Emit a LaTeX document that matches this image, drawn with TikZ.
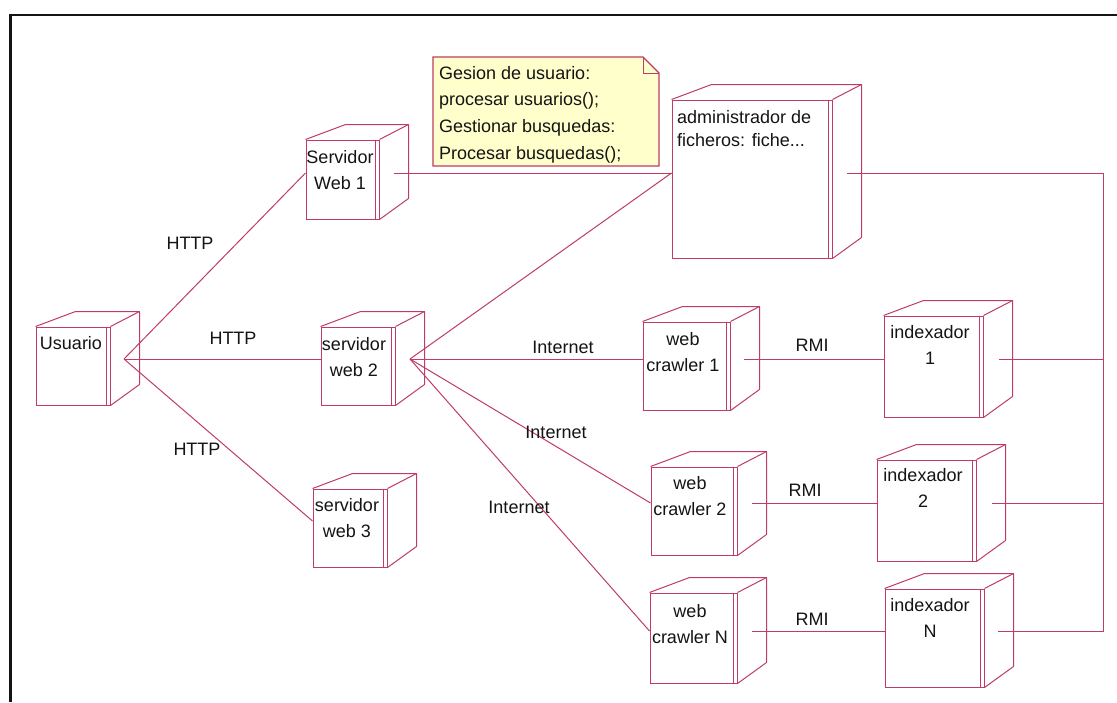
\documentclass[tikz,border=0pt]{standalone}
\usepackage{fontspec}
\setmainfont{Liberation Sans}
\usetikzlibrary{fit,calc}
\definecolor{uml}{RGB}{190,60,102}
\definecolor{notefill}{RGB}{255,255,204}
\definecolor{ink}{RGB}{20,20,20}
\definecolor{framec}{RGB}{20,20,20}
\tikzset{
  edge/.style={draw=uml, line width=1pt, line join=round},
  front/.style={draw=uml, line width=1pt, inner sep=0pt},
  conn/.style={draw=uml, line width=1pt},
  txt/.style={text=ink, font=\fontsize{18}{26}\selectfont, align=center, inner sep=0pt},
  lbl/.style={text=ink, font=\fontsize{18}{22}\selectfont, inner sep=0pt},
}
\newcommand\umlcube[7]{%
  \node[front, fit={(#2,#3) (#4,#5)}] (#1) {};
  \draw[edge] (#1.north west) -- ++(40,-15) -- ($(#1.north east)+(29,-15)$) -- ($(#1.south east)+(29,-21)$) -- (#1.south east);
  \draw[edge] (#1.north east) -- ++(29,-15);
  \draw[edge] ($(#1.north east)+(-4,0)$) -- ($(#1.south east)+(-4,0)$);
  \coordinate (#1-p) at (#6,#7);
}
\begin{document}
\begin{tikzpicture}[x=1pt,y=-1pt]
\useasboundingbox (0,0) rectangle (1117,702);
\fill[white] (0,0) rectangle (1117,702);
% frame
\draw[framec, line width=2.6pt] (10.5,702) -- (10.5,15) -- (1117,15);

% nodes
\umlcube{usuario}{36}{327}{110}{405}{124}{359}
\umlcube{sw1}{306}{140}{379}{219}{394}{173}
\umlcube{sw2}{321}{327}{395}{405}{410}{359}
\umlcube{sw3}{313}{489}{387}{567}{402}{521}
\umlcube{adm}{672}{100}{832}{258}{847}{173}
\umlcube{wc1}{643}{322}{730}{410}{744}{359}
\umlcube{wc2}{651}{467}{737}{555}{752}{503}
\umlcube{wcN}{650}{593}{737}{683}{752}{631}
\umlcube{idx1}{884}{316}{983}{417}{999}{359}
\umlcube{idx2}{877}{460}{976}{561}{992}{503}
\umlcube{idxN}{885}{589}{984}{687}{998}{631}
\coordinate (bus) at (1103,173);

% connectors
\draw[conn] (usuario-p) -- (sw1.west |- sw1-p);
\draw[conn] (usuario-p) -- (sw2.west |- sw2-p);
\draw[conn] (usuario-p) -- (sw3.west |- sw3-p);
\draw[conn] (sw1-p) -- (adm.west |- adm-p);
\draw[conn] (sw2-p) -- (adm.west |- adm-p);
\draw[conn] (sw2-p) -- (wc1.west |- wc1-p);
\draw[conn] (sw2-p) -- (wc2.west |- wc2-p);
\draw[conn] (sw2-p) -- (wcN.west |- wcN-p);
\draw[conn] (wc1-p) -- (idx1.west |- wc1-p);
\draw[conn] (wc2-p) -- (idx2.west |- wc2-p);
\draw[conn] (wcN-p) -- (idxN.west |- wcN-p);
\draw[conn] (adm-p) -- (bus) |- (idxN-p);
\draw[conn] (idx1-p) -- (bus |- idx1-p);
\draw[conn] (idx2-p) -- (bus |- idx2-p);

% note shape
\draw[draw=uml, line width=1.2pt, fill=notefill] (433,57) -- (643,57) -- (659,73) -- (659,166) -- (433,166) -- cycle;
\draw[draw=uml, line width=0.9pt] (643,57) -- (643,73) -- (659,73);
\node[lbl, align=left, anchor=north west, font=\fontsize{18}{26.7}\selectfont] (note) at (439,66)
  {Gesion de usuario:\\procesar usuarios();\\Gestionar busquedas:\\Procesar busquedas();};

% node texts
\node[txt] (usuario-t) at (71,343) {Usuario};
\node[txt] (sw1-t) at (340,170) {Servidor\\Web 1};
\node[txt] (sw2-t) at (354,357) {servidor\\web 2};
\node[txt] (sw3-t) at (347,518) {servidor\\web 3};
\node[txt, align=left, anchor=north west, font=\fontsize{18}{23}\selectfont] (adm-t) at (677,110) {administrador de\\ficheros: fiche...};
\node[txt] (wc1-t) at (683,352) {web\\crawler 1};
\node[txt] (wc2-t) at (690,496) {web\\crawler 2};
\node[txt] (wcN-t) at (690,624) {web\\crawler N};
\node[txt] (idx1-t) at (930,345) {indexador\\1};
\node[txt] (idx2-t) at (923,488) {indexador\\2};
\node[txt] (idxN-t) at (930,618) {indexador\\N};

% connector labels
\node[lbl] (h1) at (190,243) {HTTP};
\node[lbl] (h2) at (233,338) {HTTP};
\node[lbl] (h3) at (197,449) {HTTP};
\node[lbl] (i1) at (563,347) {Internet};
\node[lbl] (i2) at (556,432) {Internet};
\node[lbl] (i3) at (519,507) {Internet};
\node[lbl] (r1) at (812,345) {RMI};
\node[lbl] (r2) at (805,490) {RMI};
\node[lbl] (r3) at (812,619) {RMI};
\end{tikzpicture}
\end{document}
